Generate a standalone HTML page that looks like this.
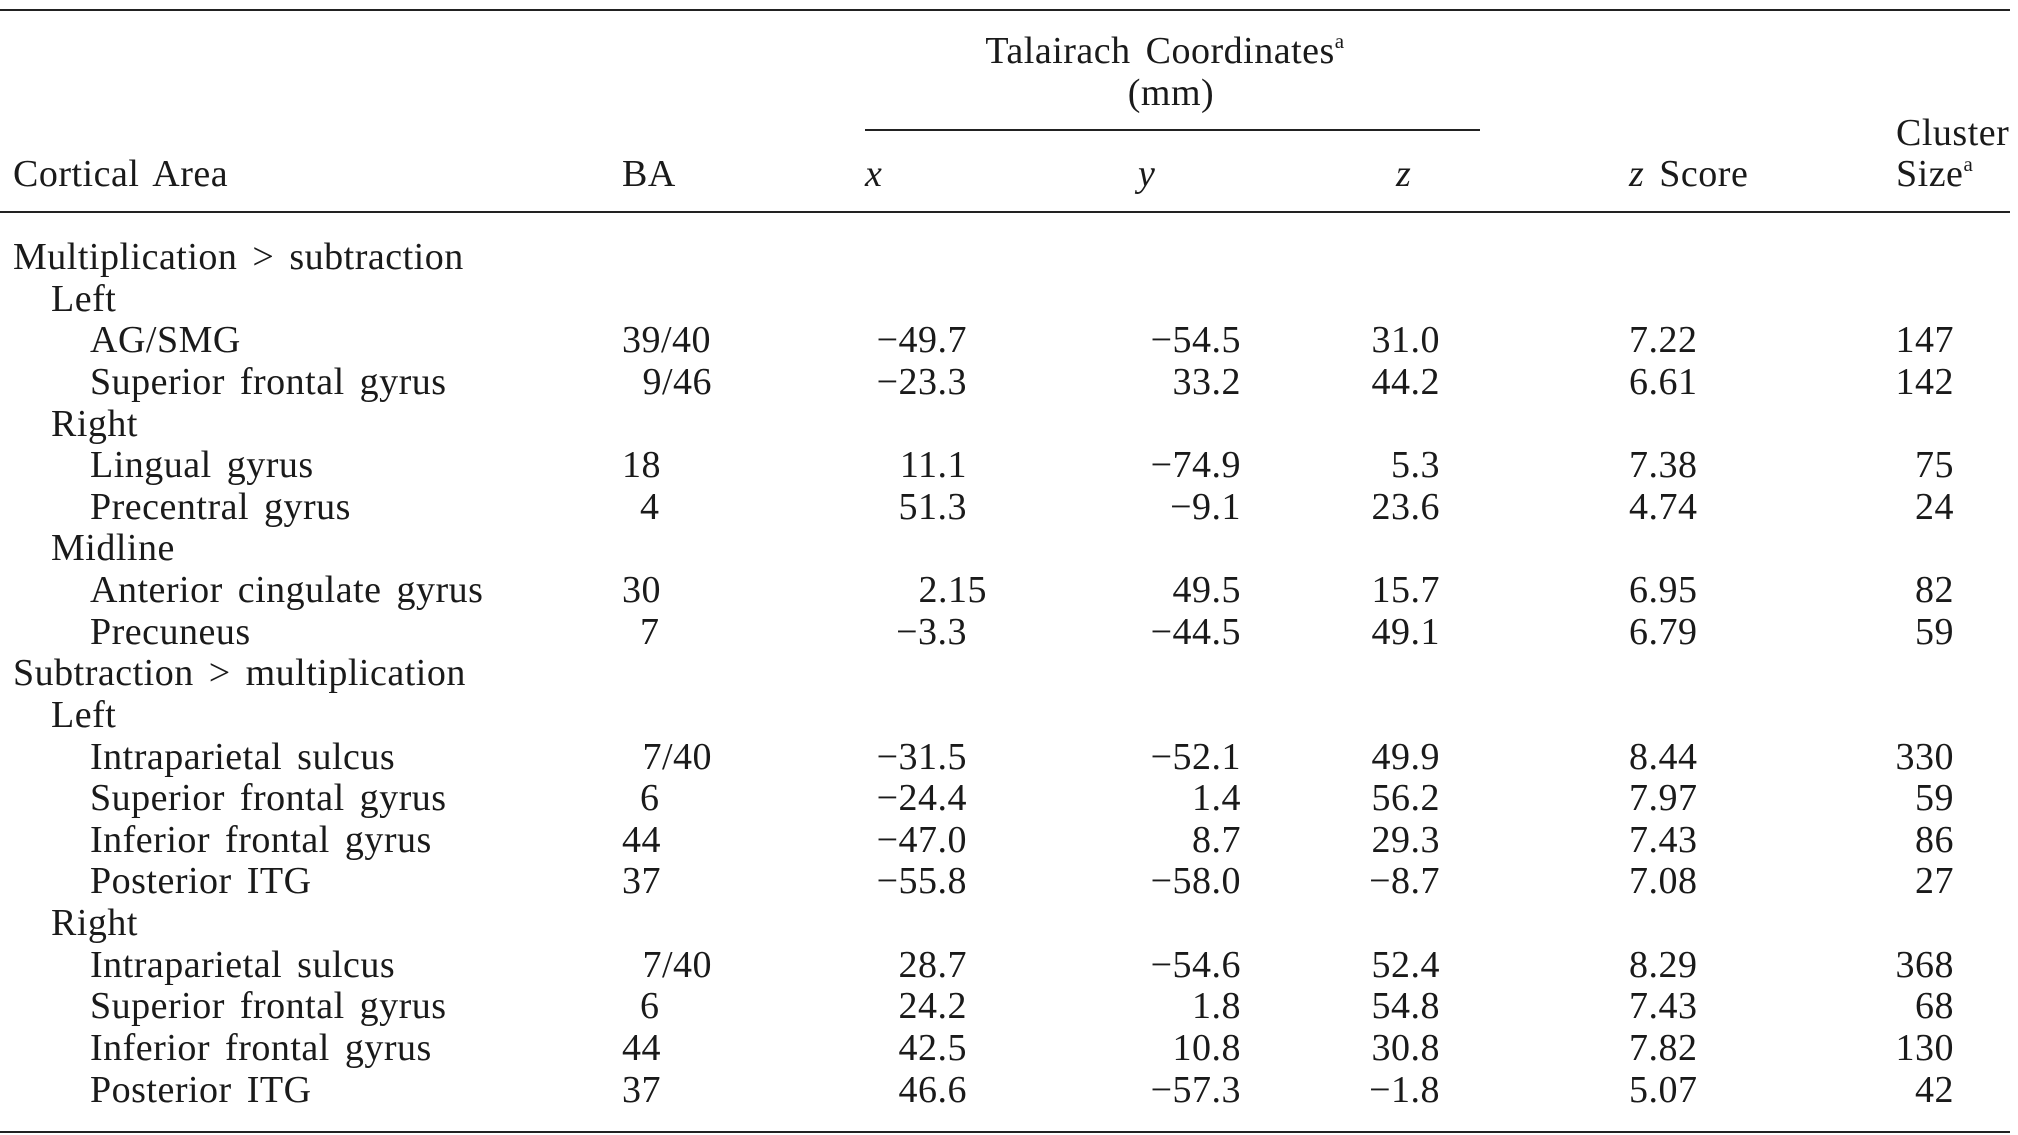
<!DOCTYPE html>
<html><head><meta charset="utf-8"><style>
html,body{margin:0;padding:0;background:#fff}
body{width:2018px;height:1135px;position:relative;overflow:hidden;font-family:"Liberation Serif",serif;font-size:38px;color:#1a1a1a;letter-spacing:0.5px;word-spacing:5px}
.t{position:absolute;line-height:40px;white-space:nowrap}
.c{transform:translateX(-50%)}
.hl{position:absolute;background:#222;height:2px}
i{font-style:italic}
sup{font-size:21px;vertical-align:15px;line-height:0}
</style></head><body>
<div class="hl" style="left:0;top:9px;width:2010px"></div>
<div class="hl" style="left:865px;top:129px;width:615px"></div>
<div class="hl" style="left:0;top:211px;width:2010px"></div>
<div class="hl" style="left:0;top:1131px;width:2010px"></div>

<div class="t c" style="left:1165px;top:31px">Talairach Coordinates<sup>a</sup></div>
<div class="t c" style="left:1171px;top:73px">(mm)</div>
<div class="t" style="left:13px;top:154px">Cortical Area</div>
<div class="t" style="left:622px;top:154px">BA</div>
<div class="t" style="left:865px;top:154px"><i>x</i></div>
<div class="t" style="left:1138px;top:154px"><i>y</i></div>
<div class="t" style="left:1396px;top:154px"><i>z</i></div>
<div class="t" style="left:1629px;top:154px"><i>z</i> Score</div>
<div class="t" style="left:1896px;top:113px">Cluster</div>
<div class="t" style="left:1896px;top:154px">Size<sup>a</sup></div>

<div class="t" style="left:13px;top:237px">Multiplication &gt; subtraction</div>
<div class="t" style="left:51px;top:279px">Left</div>
<div class="t" style="left:90px;top:320px">AG/SMG</div>
<div class="t" style="left:90px;top:362px">Superior frontal gyrus</div>
<div class="t" style="left:51px;top:404px">Right</div>
<div class="t" style="left:90px;top:445px">Lingual gyrus</div>
<div class="t" style="left:90px;top:487px">Precentral gyrus</div>
<div class="t" style="left:51px;top:528px">Midline</div>
<div class="t" style="left:90px;top:570px">Anterior cingulate gyrus</div>
<div class="t" style="left:90px;top:612px">Precuneus</div>
<div class="t" style="left:13px;top:653px">Subtraction &gt; multiplication</div>
<div class="t" style="left:51px;top:695px">Left</div>
<div class="t" style="left:90px;top:737px">Intraparietal sulcus</div>
<div class="t" style="left:90px;top:778px">Superior frontal gyrus</div>
<div class="t" style="left:90px;top:820px">Inferior frontal gyrus</div>
<div class="t" style="left:90px;top:861px">Posterior ITG</div>
<div class="t" style="left:51px;top:903px">Right</div>
<div class="t" style="left:90px;top:945px">Intraparietal sulcus</div>
<div class="t" style="left:90px;top:986px">Superior frontal gyrus</div>
<div class="t" style="left:90px;top:1028px">Inferior frontal gyrus</div>
<div class="t" style="left:90px;top:1070px">Posterior ITG</div>

<div class="t" style="left:622px;top:320px">39/40</div>
<div class="t" style="right:1306px;top:362px">9/46</div>
<div class="t" style="left:622px;top:445px">18</div>
<div class="t" style="left:640px;top:487px">4</div>
<div class="t" style="left:622px;top:570px">30</div>
<div class="t" style="left:640px;top:612px">7</div>
<div class="t" style="right:1306px;top:737px">7/40</div>
<div class="t" style="left:640px;top:778px">6</div>
<div class="t" style="left:622px;top:820px">44</div>
<div class="t" style="left:622px;top:861px">37</div>
<div class="t" style="right:1306px;top:945px">7/40</div>
<div class="t" style="left:640px;top:986px">6</div>
<div class="t" style="left:622px;top:1028px">44</div>
<div class="t" style="left:622px;top:1070px">37</div>

<div class="t" style="right:1051px;top:320px">−49.7</div>
<div class="t" style="right:1051px;top:362px">−23.3</div>
<div class="t" style="right:1051px;top:445px">11.1</div>
<div class="t" style="right:1051px;top:487px">51.3</div>
<div class="t" style="right:1031px;top:570px">2.15</div>
<div class="t" style="right:1051px;top:612px">−3.3</div>
<div class="t" style="right:1051px;top:737px">−31.5</div>
<div class="t" style="right:1051px;top:778px">−24.4</div>
<div class="t" style="right:1051px;top:820px">−47.0</div>
<div class="t" style="right:1051px;top:861px">−55.8</div>
<div class="t" style="right:1051px;top:945px">28.7</div>
<div class="t" style="right:1051px;top:986px">24.2</div>
<div class="t" style="right:1051px;top:1028px">42.5</div>
<div class="t" style="right:1051px;top:1070px">46.6</div>

<div class="t" style="right:777px;top:320px">−54.5</div>
<div class="t" style="right:777px;top:362px">33.2</div>
<div class="t" style="right:777px;top:445px">−74.9</div>
<div class="t" style="right:777px;top:487px">−9.1</div>
<div class="t" style="right:777px;top:570px">49.5</div>
<div class="t" style="right:777px;top:612px">−44.5</div>
<div class="t" style="right:777px;top:737px">−52.1</div>
<div class="t" style="right:777px;top:778px">1.4</div>
<div class="t" style="right:777px;top:820px">8.7</div>
<div class="t" style="right:777px;top:861px">−58.0</div>
<div class="t" style="right:777px;top:945px">−54.6</div>
<div class="t" style="right:777px;top:986px">1.8</div>
<div class="t" style="right:777px;top:1028px">10.8</div>
<div class="t" style="right:777px;top:1070px">−57.3</div>

<div class="t" style="right:578px;top:320px">31.0</div>
<div class="t" style="right:578px;top:362px">44.2</div>
<div class="t" style="right:578px;top:445px">5.3</div>
<div class="t" style="right:578px;top:487px">23.6</div>
<div class="t" style="right:578px;top:570px">15.7</div>
<div class="t" style="right:578px;top:612px">49.1</div>
<div class="t" style="right:578px;top:737px">49.9</div>
<div class="t" style="right:578px;top:778px">56.2</div>
<div class="t" style="right:578px;top:820px">29.3</div>
<div class="t" style="right:578px;top:861px">−8.7</div>
<div class="t" style="right:578px;top:945px">52.4</div>
<div class="t" style="right:578px;top:986px">54.8</div>
<div class="t" style="right:578px;top:1028px">30.8</div>
<div class="t" style="right:578px;top:1070px">−1.8</div>

<div class="t" style="left:1629px;top:320px">7.22</div>
<div class="t" style="left:1629px;top:362px">6.61</div>
<div class="t" style="left:1629px;top:445px">7.38</div>
<div class="t" style="left:1629px;top:487px">4.74</div>
<div class="t" style="left:1629px;top:570px">6.95</div>
<div class="t" style="left:1629px;top:612px">6.79</div>
<div class="t" style="left:1629px;top:737px">8.44</div>
<div class="t" style="left:1629px;top:778px">7.97</div>
<div class="t" style="left:1629px;top:820px">7.43</div>
<div class="t" style="left:1629px;top:861px">7.08</div>
<div class="t" style="left:1629px;top:945px">8.29</div>
<div class="t" style="left:1629px;top:986px">7.43</div>
<div class="t" style="left:1629px;top:1028px">7.82</div>
<div class="t" style="left:1629px;top:1070px">5.07</div>

<div class="t" style="right:64px;top:320px">147</div>
<div class="t" style="right:64px;top:362px">142</div>
<div class="t" style="right:64px;top:445px">75</div>
<div class="t" style="right:64px;top:487px">24</div>
<div class="t" style="right:64px;top:570px">82</div>
<div class="t" style="right:64px;top:612px">59</div>
<div class="t" style="right:64px;top:737px">330</div>
<div class="t" style="right:64px;top:778px">59</div>
<div class="t" style="right:64px;top:820px">86</div>
<div class="t" style="right:64px;top:861px">27</div>
<div class="t" style="right:64px;top:945px">368</div>
<div class="t" style="right:64px;top:986px">68</div>
<div class="t" style="right:64px;top:1028px">130</div>
<div class="t" style="right:64px;top:1070px">42</div>
</body></html>
